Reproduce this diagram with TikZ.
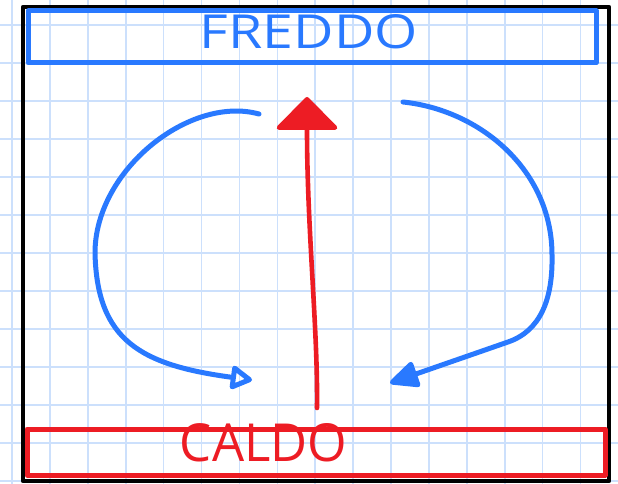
\documentclass[tikz,border=0pt]{standalone}
\usepackage{fontspec}
\usepackage{graphicx}
\setsansfont{Open Sans}
\usetikzlibrary{arrows.meta}
\definecolor{gridc}{RGB}{204,224,252}
\definecolor{penblue}{RGB}{41,121,255}
\definecolor{penred}{RGB}{237,28,36}
\tikzset{
  gridline/.style={gridc, line width=1.6pt},
  framebox/.style={draw=black, line width=4.6pt, inner sep=0pt},
  coldbox/.style={draw=penblue, line width=5pt, inner sep=0pt},
  hotbox/.style={draw=penred, line width=5pt, inner sep=0pt},
  label/.style={inner sep=0pt, font=\sffamily},
  flowblue/.style={draw=penblue, line width=5pt},
  flowred/.style={draw=penred, line width=4.6pt}
}
\begin{document}
\begin{tikzpicture}[x=1pt, y=-1pt, line cap=round, line join=round]
\useasboundingbox (0,0) rectangle (618,484);
\fill[white] (0,0) rectangle (618,484);
% grid paper
\foreach \k in {0,...,16} \draw[gridline] ({12+37.9*\k},0) -- ({12+37.9*\k},484);
\foreach \k in {0,...,12} \draw[gridline] (0,{25+38*\k}) -- (618,{25+38*\k});
% boxes
\node[framebox, minimum width=586pt, minimum height=474pt] (frame) at (316,244) {};
\node[coldbox, minimum width=568pt, minimum height=52pt] (cold) at (312,37) {};
\node[hotbox, minimum width=578pt, minimum height=46pt] (hot) at (316,452) {};
% labels
\node[label, text=penblue] (freddo) at (309,32) {\resizebox{218pt}{34pt}{FREDDO}};
\node[label, text=penred] (caldo) at (263.5,443) {\resizebox{167pt}{38pt}{CALDO}};
% left circulation arrow
\coordinate (lS) at (259,114);
\coordinate (lM) at (95,253);
\coordinate (lE) at (252,380);
\draw[flowblue, -{Triangle[open, length=24pt, width=26pt, round]}]
  (lS) .. controls (190,95) and (95,170) .. (lM)
       .. controls (97,340) and (140,365) .. (lE);
% right circulation arrow
\coordinate (rS) at (403,102);
\coordinate (rM) at (552,255);
\coordinate (rK) at (508,342);
\coordinate (rE) at (390,383);
\draw[flowblue, -{Triangle[length=32pt, width=28pt, round]}]
  (rS) .. controls (480,110) and (552,170) .. (rM)
       .. controls (553,300) and (540,331) .. (rK) -- (rE);
% rising hot arrow
\coordinate (uS) at (317,408);
\coordinate (uE) at (307,97);
\draw[flowred, -{Triangle[length=34pt, width=66pt, round]}]
  (uS) .. controls (318,330) and (307,230) .. (uE);
\end{tikzpicture}
\end{document}
